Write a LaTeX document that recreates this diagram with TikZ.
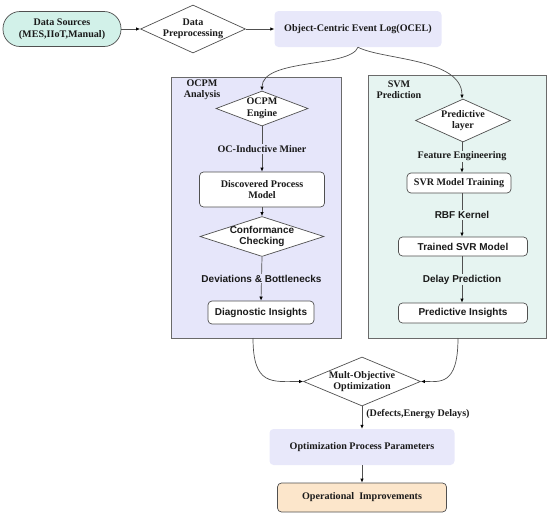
\documentclass[tikz,border=0pt]{standalone}
\usepackage{fontspec}
\setmainfont{Liberation Serif}
\newfontfamily\sansf{Liberation Sans}
\usetikzlibrary{shapes.geometric,arrows.meta}
\definecolor{lineg}{HTML}{505050}
\definecolor{txt}{HTML}{1A1A1A}
\definecolor{tealf}{HTML}{D2F1E9}
\definecolor{lavf}{HTML}{E8E8FA}
\definecolor{ocpmf}{HTML}{E6E6FA}
\definecolor{svmf}{HTML}{E6F4F1}
\definecolor{peachf}{HTML}{FCE6CB}
\tikzset{
  arr/.style={draw=lineg, line width=0.7pt, -{Latex[length=4pt,width=3.5pt,fill=black,color=black]}},
  sf/.style={font=\bfseries\fontsize{10.1}{11.5}\selectfont, text=txt},
  ss/.style={font=\sansf\bfseries\fontsize{10}{11.5}\selectfont, text=txt},
  dia/.style={diamond, draw=lineg, fill=white, line width=0.7pt, inner sep=0pt},
  rbox/.style={draw=lineg, fill=white, rounded corners=4pt, line width=0.7pt, inner sep=0pt},
  panel/.style={draw=lineg!85, line width=0.8pt, inner sep=0pt},
  lbl/.style={inner sep=1pt, align=center},
}
\begin{document}
\begin{tikzpicture}[x=1pt,y=-1pt]
\useasboundingbox (0,0) rectangle (550,517);
% top row
\node[draw=lineg, fill=tealf, rounded corners=17pt, line width=0.7pt, minimum width=118, minimum height=35, sf, align=center] (src) at (62,29) {Data Sources\\(MES,IIoT,Manual)};
\node[dia, minimum width=105, minimum height=48, label={[sf, align=center]center:Data\\Preprocessing}] (pre) at (193,29) {};
\node[fill=lavf, rounded corners=4pt, minimum width=167, minimum height=36, sf] (ocel) at (358,29) {Object-Centric Event Log(OCEL)};
\draw[arr] (src) -- (pre);
\draw[arr] (pre) -- (ocel);
% panels
\node[panel, fill=ocpmf, minimum width=170, minimum height=261] (ocpm) at (256,207.5) {};
\node[panel, fill=svmf, minimum width=178, minimum height=263] (svm) at (457,206.5) {};
\node[sf, align=center, inner sep=0pt] (ocpmt) at (202,89.5) {OCPM\\Analysis};
\node[sf, align=center, inner sep=0pt] (svmt) at (399,89.5) {SVM\\Prediction};
% OCPM column
\node[dia, minimum width=92, minimum height=35, label={[sf, align=center]center:OCPM\\Engine}] (eng) at (262,108.5) {};
\node[rbox, minimum width=125, minimum height=35, sf, align=center] (dpm) at (262,189.5) {Discovered Process\\Model};
\node[dia, minimum width=124, minimum height=40, label={[ss, align=center]center:Conformance\\Checking}] (conf) at (262,236.5) {};
\node[rbox, minimum width=106, minimum height=23, ss] (diag) at (261,312.5) {Diagnostic Insights};
\draw[arr] (eng.south) -- node[lbl, sf, fill=ocpmf] {OC-Inductive Miner} (dpm.north);
\draw[arr] (dpm.south) -- (conf.north);
\draw[arr] (conf.south) -- node[lbl, ss, fill=ocpmf] {Deviations \& Bottlenecks} (diag.north);
% SVM column
\node[dia, minimum width=95, minimum height=43, label={[sf, align=center]center:Predictive\\layer}] (pl) at (463,120.5) {};
\node[rbox, minimum width=104, minimum height=20, sf] (svr) at (459,183) {SVR Model Training};
\node[rbox, minimum width=129, minimum height=19, ss] (tsvr) at (463,246.5) {Trained SVR Model};
\node[rbox, minimum width=129, minimum height=20, ss] (pins) at (463,313) {Predictive Insights};
\draw[arr] (pl.south -| 462,0) -- node[lbl, sf, fill=svmf, pos=0.47] {Feature Engineering} (svr.north -| 462,0);
\draw[arr] (svr.south -| 462,0) -- node[lbl, ss, fill=svmf] {RBF Kernel} (tsvr.north -| 462,0);
\draw[arr] (tsvr.south -| 462,0) -- node[lbl, ss, fill=svmf] {Delay Prediction} (pins.north -| 462,0);
% curves from OCEL
\draw[arr] (ocel.south) .. controls (350,68) and (262,58) .. (eng.north);
\draw[arr] (ocel.south) .. controls (382,60) and (462,58) .. (pl.north -| 462,0);
% bottom
\node[dia, minimum width=117, minimum height=49, label={[sf, align=center]center:Mult-Objective\\Optimization}] (moo) at (362,381.5) {};
\coordinate (ob) at (253,338);
\coordinate (sb) at (458,338);
\draw[arr] (ob) .. controls (253,386) and (272,381.5) .. (moo.west);
\draw[arr] (sb) .. controls (458,386) and (440,381.5) .. (moo.east);
\node[fill=lavf, rounded corners=4pt, minimum width=185, minimum height=36, sf] (opp) at (362,447) {Optimization Process Parameters};
\node[draw=lineg, fill=peachf, rounded corners=4pt, line width=0.7pt, minimum width=169, minimum height=29, sf] (opi) at (362,497.5) {Operational\ \ Improvements};
\draw[arr] (moo.south) -- node[sf, anchor=west, inner sep=0pt, xshift=4pt, pos=0.35] {(Defects,Energy Delays)} (opp.north);
\draw[arr] (opp.south) -- (opi.north);
\end{tikzpicture}
\end{document}
